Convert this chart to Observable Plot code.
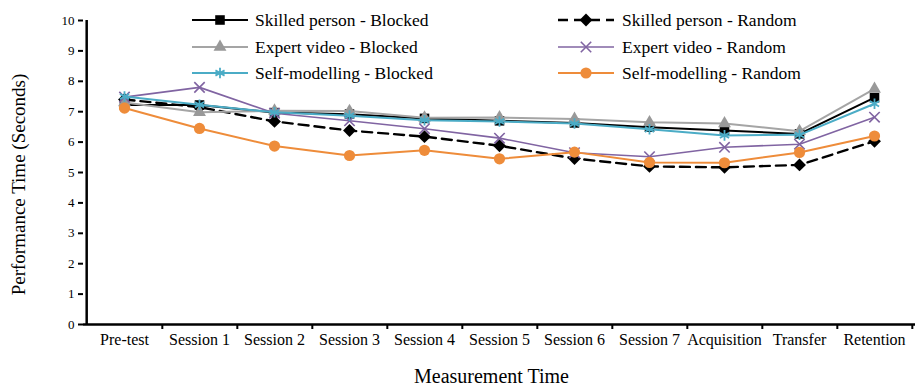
<!DOCTYPE html>
<html>
<head>
<meta charset="utf-8">
<script src="https://cdn.jsdelivr.net/npm/d3@7"></script>
<script src="https://cdn.jsdelivr.net/npm/@observablehq/plot@0.6"></script>
<style>
  html, body { margin: 0; padding: 0; background: #fff; }
  #wrap { position: relative; width: 919px; height: 390px; }
  #legend { position: absolute; left: 0; top: 0; pointer-events: none; }
</style>
</head>
<body>
<div id="wrap"></div>
<script>
// ---- Data ----
const sessions = ["Pre-test", "Session 1", "Session 2", "Session 3", "Session 4", "Session 5", "Session 6", "Session 7", "Acquisition", "Transfer", "Retention"];
const seriesNames = ["Skilled person - Blocked", "Skilled person - Random", "Expert video - Blocked", "Expert video - Random", "Self-modelling - Blocked", "Self-modelling - Random"];
const skilledBlocked = [7.22, 7.22, 6.97, 6.92, 6.78, 6.70, 6.63, 6.49, 6.38, 6.27, 7.46];
const skilledRandom  = [7.40, 7.15, 6.68, 6.38, 6.18, 5.88, 5.46, 5.20, 5.17, 5.25, 6.03];
const expertBlocked  = [7.30, 6.98, 7.03, 7.02, 6.80, 6.81, 6.76, 6.65, 6.61, 6.36, 7.75];
const expertRandom   = [7.48, 7.80, 6.95, 6.70, 6.44, 6.13, 5.65, 5.52, 5.83, 5.93, 6.82];
const selfBlocked    = [7.50, 7.23, 6.98, 6.87, 6.72, 6.68, 6.61, 6.42, 6.22, 6.24, 7.26];
const selfRandom     = [7.12, 6.45, 5.87, 5.56, 5.73, 5.45, 5.67, 5.33, 5.32, 5.66, 6.20];
const yTicks = [0, 1, 2, 3, 4, 5, 6, 7, 8, 9, 10];
const xTitle = "Measurement Time";
const yTitle = "Performance Time (Seconds)";

// ---- Styles ----
const styles = [
  {values: skilledBlocked, stroke: "#000000", fill: "#000000", symbol: "square",   r: 5.4, sw: 2,   dash: null,  mstroke: "none", msw: 0},
  {values: skilledRandom,  stroke: "#000000", fill: "#000000", symbol: "diamond2", r: 5.8, sw: 2.4, dash: "10,6", mstroke: "none", msw: 0},
  {values: expertBlocked,  stroke: "#a5a5a5", fill: "#999999", symbol: "triangle", r: 4.8, sw: 2,   dash: null,  mstroke: "none", msw: 0},
  {values: expertRandom,   stroke: "#8064a2", fill: "none",    symbol: "times",    r: 4.8, sw: 1.6, dash: null,  mstroke: "#8064a2", msw: 1.6},
  {values: selfBlocked,    stroke: "#4bacc6", fill: "none",    symbol: "asterisk", r: 5.0, sw: 2,   dash: null,  mstroke: "#4bacc6", msw: 1.8},
  {values: selfRandom,     stroke: "#ee8c3a", fill: "#ee8c3a", symbol: "circle",   r: 5.6, sw: 2,   dash: null,  mstroke: "none", msw: 0}
];

const width = 919, height = 390;
const marginTop = 20, marginBottom = 66, marginLeft = 83, marginRight = 4;
const step = (width - marginLeft - marginRight) / sessions.length;
const font = "'Liberation Serif', 'Times New Roman', serif";

const seriesMarks = [];
styles.forEach((s, k) => {
  const data = sessions.map((c, i) => ({session: c, value: s.values[i], series: seriesNames[k]}));
  seriesMarks.push(Plot.lineY(data, {x: "session", y: "value", stroke: s.stroke, strokeWidth: s.sw, strokeDasharray: s.dash}));
  seriesMarks.push(Plot.dot(data, {x: "session", y: "value", symbol: () => s.symbol, r: s.r, fill: s.fill, stroke: s.mstroke, strokeWidth: s.msw}));
});

const chart = Plot.plot({
  width, height, marginTop, marginBottom, marginLeft, marginRight,
  style: {fontFamily: font, background: "#fff", color: "#000"},
  symbol: {type: "identity"},
  x: {type: "point", domain: sessions, padding: 0.5, label: null},
  y: {domain: [0, 10], label: null},
  marks: [
    Plot.axisY({ticks: yTicks, tickSize: 5, tickPadding: 4, fontSize: 13, strokeWidth: 2, label: null, fontFamily: font}),
    Plot.axisX({tickSize: 0, tickPadding: 9, fontSize: 16, label: null, fontFamily: font}),
    Plot.ruleY([0], {strokeWidth: 2.5}),
    Plot.ruleX([sessions[0]], {y1: 0, y2: 10, dx: -step / 2, strokeWidth: 2.5}),
    Plot.ruleX(sessions, {y1: 0, y2: 0, insetBottom: -5, dx: step / 2, strokeWidth: 2}),
    Plot.text([xTitle], {text: d => d, frameAnchor: "bottom", textAnchor: "middle", dy: 58, dx: -8, fontSize: 20}),
    Plot.text([yTitle], {text: d => d, frameAnchor: "left", textAnchor: "middle", dx: -65, dy: 12, rotate: -90, fontSize: 19}),
    ...seriesMarks
  ]
});
document.getElementById("wrap").appendChild(chart);

// ---- Legend (overlay) ----
const legendPos = [
  {x1: 192, x2: 248, tx: 255, y: 20},
  {x1: 558, x2: 614, tx: 622, y: 20},
  {x1: 192, x2: 248, tx: 255, y: 47},
  {x1: 558, x2: 614, tx: 622, y: 47},
  {x1: 192, x2: 248, tx: 255, y: 73},
  {x1: 558, x2: 614, tx: 622, y: 73}
];
const symMap = {square: d3.symbolSquare, diamond2: d3.symbolDiamond2, triangle: d3.symbolTriangle, times: d3.symbolTimes, asterisk: d3.symbolAsterisk, circle: d3.symbolCircle};
const lg = d3.select("#wrap").append("svg").attr("id", "legend").attr("width", width).attr("height", 100)
  .style("font-family", font);
styles.forEach((s, k) => {
  const p = legendPos[k];
  const g = lg.append("g");
  g.append("line").attr("x1", p.x1).attr("x2", p.x2).attr("y1", p.y).attr("y2", p.y)
    .attr("stroke", s.stroke).attr("stroke-width", s.sw).attr("stroke-dasharray", s.dash);
  g.append("path").attr("transform", `translate(${(p.x1 + p.x2) / 2},${p.y})`)
    .attr("d", d3.symbol(symMap[s.symbol], Math.PI * s.r * s.r)())
    .attr("fill", s.fill).attr("stroke", s.mstroke).attr("stroke-width", s.msw);
  g.append("text").attr("x", p.tx).attr("y", p.y).attr("dy", "0.35em")
    .attr("font-size", 17.5).text(seriesNames[k]);
});
</script>
</body>
</html>
